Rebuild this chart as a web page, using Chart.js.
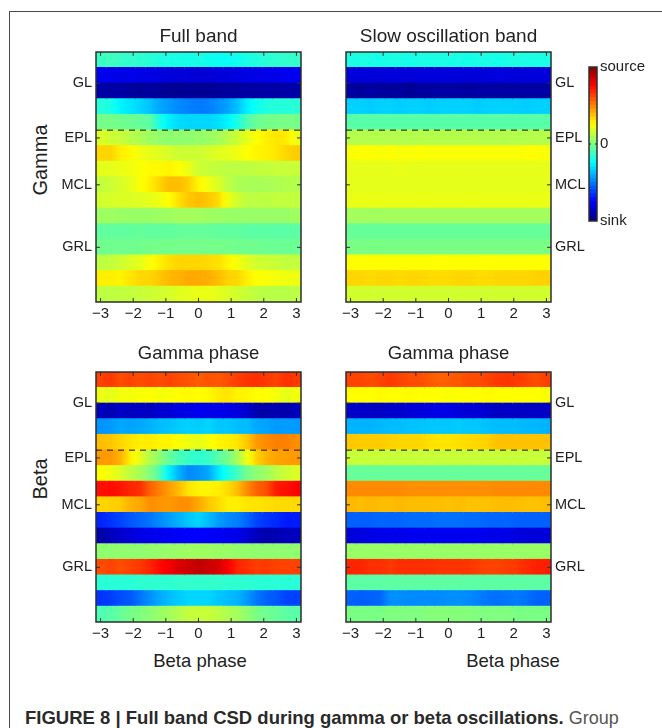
<!DOCTYPE html>
<html><head><meta charset="utf-8">
<script src="https://cdn.jsdelivr.net/npm/chart.js@4"></script>
<style>
html,body{margin:0;padding:0;background:#fff;overflow:hidden}
#page{position:relative;width:662px;height:728px;overflow:hidden;font-family:"Liberation Sans",sans-serif;color:#222}
#frame{position:absolute;left:9px;top:11px;width:660px;height:740px;border:1.5px solid #4a4a4a;box-sizing:border-box}
canvas{position:absolute;filter:blur(0.4px)}
.t{position:absolute;white-space:nowrap;color:#222}
.rot{transform:translate(-50%,-50%) rotate(-90deg);font-size:20px}
.xl{transform:translate(-50%,-50%);font-size:18.5px}
#cap{left:25px;top:708px;font-size:18.5px;line-height:20px;color:#222}
#cap b{color:#2a2a2a}
#cap span{color:#555;font-size:18px}
</style></head><body>
<div id="page">
<div id="frame"></div>
<div class="t rot" style="left:40px;top:160px">Gamma</div>
<div class="t rot" style="left:40px;top:479px">Beta</div>
<div class="t xl" style="left:200px;top:661px">Beta phase</div>
<div class="t xl" style="left:513px;top:661px">Beta phase</div>
<div class="t" id="cap"><b>FIGURE 8 | Full band CSD during gamma or beta oscillations.</b> <span>Group</span></div>
</div>
<script>
const phaseEdges=[-3.14,-2.84,-2.54,-2.24,-1.94,-1.64,-1.34,-1.05,-0.75,-0.45,-0.15,0.15,0.45,0.75,1.05,1.34,1.64,1.94,2.24,2.54,2.84,3.14];
const rowLabels=["r1","r2","r3","r4","r5","r6","r7","r8","r9","r10","r11","r12","r13","r14","r15","r16"];
const layerNames=["GL","EPL","MCL","GRL"];
const layerDepths=[2,5.5,8.5,12.5];
const dashDepth=5;
const phaseTicks=[-3,-2,-1,0,1,2,3];
const panelTitles=["Full band","Slow oscillation band","Gamma phase","Gamma phase"];

const fullBandGamma=[
[-.14,-.12,-.14,-.15,-.16,-.17,-.19,-.2,-.2,-.21,-.2,-.22,-.23,-.23,-.22,-.2,-.19,-.17,-.16,-.15,-.15],
[-.78,-.79,-.8,-.79,-.8,-.8,-.81,-.82,-.82,-.83,-.83,-.83,-.82,-.82,-.81,-.8,-.8,-.79,-.79,-.78,-.78],
[-.92,-.93,-.92,-.94,-.95,-.94,-.95,-.96,-.96,-.95,-.96,-.95,-.95,-.94,-.94,-.93,-.93,-.92,-.93,-.92,-.92],
[-.18,-.2,-.27,-.3,-.33,-.37,-.42,-.45,-.48,-.5,-.51,-.5,-.47,-.43,-.37,-.28,-.22,-.19,-.18,-.18,-.17],
[-.02,-.02,-.03,-.04,-.05,-.07,-.2,-.28,-.32,-.33,-.33,-.33,-.31,-.27,-.2,-.1,-.04,-.02,-.02,-.01,-.02],
[.18,.15,.14,.11,.09,.06,.04,.03,.03,.03,.04,.05,.07,.11,.15,.2,.25,.28,.3,.29,.22],
[.33,.33,.28,.26,.22,.2,.19,.17,.15,.15,.15,.17,.19,.2,.22,.25,.27,.28,.3,.33,.35],
[.2,.2,.21,.22,.24,.26,.26,.27,.25,.21,.15,.14,.13,.12,.12,.12,.13,.13,.14,.14,.14],
[.13,.15,.17,.2,.24,.28,.33,.38,.38,.34,.27,.22,.18,.12,.09,.08,.08,.08,.09,.1,.1],
[.16,.17,.18,.18,.19,.2,.22,.25,.31,.36,.38,.36,.32,.22,.16,.12,.12,.12,.13,.13,.13],
[.06,.06,.05,.05,.05,.05,.06,.06,.07,.07,.07,.06,.06,.05,.05,.05,.05,.05,.05,.05,.06],
[-.06,-.06,-.06,-.06,-.05,-.06,-.06,-.06,-.05,-.05,-.05,-.05,-.06,-.06,-.06,-.07,-.07,-.07,-.07,-.07,-.07],
[-.03,-.03,-.03,-.03,-.03,-.02,-.02,-.02,-.02,-.02,-.02,-.02,-.02,-.02,-.03,-.03,-.03,-.04,-.04,-.04,-.04],
[.12,.13,.15,.18,.2,.24,.28,.31,.33,.33,.33,.32,.31,.27,.23,.19,.16,.15,.14,.13,.13],
[.28,.28,.27,.3,.33,.33,.36,.39,.4,.42,.42,.41,.38,.34,.33,.28,.25,.24,.23,.22,.22],
[.12,.12,.13,.13,.14,.15,.16,.17,.19,.2,.21,.21,.2,.18,.16,.14,.12,.11,.11,.11,.12]];

const slowBandGamma=[
[-.2,-.19,-.2,-.21,-.2,-.2,-.21,-.2,-.2,-.2,-.2,-.2,-.21,-.2,-.2,-.21,-.2,-.19,-.2,-.2,-.2],
[-.82,-.82,-.82,-.83,-.82,-.82,-.83,-.82,-.82,-.82,-.82,-.82,-.82,-.82,-.82,-.81,-.82,-.82,-.82,-.82,-.82],
[-.93,-.95,-.93,-.94,-.95,-.94,-.96,-.94,-.94,-.93,-.93,-.93,-.94,-.93,-.93,-.93,-.93,-.93,-.93,-.93,-.93],
[-.34,-.34,-.35,-.34,-.34,-.35,-.34,-.34,-.35,-.34,-.34,-.34,-.34,-.35,-.34,-.34,-.34,-.34,-.35,-.34,-.34],
[-.08,-.08,-.08,-.08,-.08,-.08,-.08,-.08,-.08,-.08,-.08,-.08,-.08,-.08,-.08,-.08,-.08,-.08,-.08,-.08,-.08],
[.1,.1,.1,.1,.1,.1,.1,.1,.1,.1,.1,.1,.1,.1,.1,.1,.1,.1,.1,.1,.1],
[.24,.25,.25,.24,.25,.24,.24,.25,.24,.24,.24,.24,.24,.24,.24,.24,.24,.24,.25,.25,.24],
[.2,.2,.2,.2,.2,.21,.2,.2,.2,.2,.2,.2,.2,.2,.2,.2,.2,.2,.2,.2,.2],
[.2,.2,.2,.2,.2,.2,.2,.2,.2,.2,.2,.2,.2,.2,.2,.2,.2,.2,.2,.2,.2],
[.21,.21,.21,.21,.21,.21,.21,.21,.21,.21,.21,.21,.21,.21,.21,.21,.21,.21,.21,.21,.21],
[.07,.07,.07,.07,.07,.07,.07,.07,.07,.07,.07,.07,.07,.07,.07,.07,.07,.07,.07,.07,.07],
[-.05,-.05,-.05,-.05,-.05,-.05,-.05,-.05,-.05,-.05,-.05,-.05,-.05,-.05,-.05,-.05,-.05,-.05,-.05,-.05,-.05],
[-.01,-.01,-.01,-.01,-.01,-.01,-.01,-.01,-.01,-.01,-.01,-.01,-.01,-.01,-.01,-.01,-.01,-.01,-.01,-.01,-.01],
[.25,.25,.25,.25,.25,.25,.25,.25,.25,.25,.25,.25,.25,.25,.25,.25,.25,.25,.25,.25,.25],
[.33,.33,.32,.33,.33,.32,.33,.33,.32,.32,.32,.33,.33,.32,.32,.33,.33,.33,.33,.34,.34],
[.16,.16,.16,.16,.16,.16,.16,.16,.16,.16,.16,.16,.16,.16,.16,.16,.16,.16,.16,.16,.16]];

const fullBandBeta=[
[.62,.64,.6,.62,.6,.62,.6,.62,.6,.59,.57,.59,.58,.6,.63,.65,.66,.64,.62,.66,.64],
[.21,.2,.23,.23,.24,.25,.23,.24,.25,.26,.25,.26,.29,.3,.27,.27,.25,.25,.23,.2,.23],
[-.88,-.9,-.86,-.88,-.86,-.88,-.84,-.84,-.8,-.8,-.78,-.79,-.79,-.8,-.82,-.85,-.91,-.92,-.9,-.91,-.88],
[-.46,-.45,-.42,-.43,-.42,-.4,-.38,-.37,-.35,-.34,-.35,-.33,-.36,-.36,-.38,-.38,-.42,-.43,-.45,-.44,-.45],
[.38,.36,.33,.3,.28,.29,.27,.27,.24,.22,.2,.23,.27,.28,.3,.36,.45,.48,.5,.5,.47],
[.45,.45,.4,.28,.2,.1,.03,-.05,-.11,-.14,-.16,-.14,-.08,-.02,.08,.22,.34,.4,.43,.44,.45],
[.25,.22,.18,.12,.08,.01,-.1,-.28,-.4,-.48,-.46,-.42,-.3,-.2,-.12,-.02,.03,.06,.12,.15,.18],
[.72,.73,.71,.68,.66,.56,.5,.44,.38,.3,.27,.27,.28,.32,.38,.48,.56,.6,.7,.72,.75],
[.33,.34,.35,.4,.42,.47,.46,.45,.47,.47,.42,.36,.32,.28,.28,.3,.3,.31,.32,.32,.32],
[-.68,-.65,-.62,-.58,-.55,-.52,-.48,-.44,-.4,-.36,-.33,-.38,-.44,-.48,-.5,-.55,-.62,-.65,-.67,-.7,-.7],
[-.92,-.88,-.85,-.83,-.8,-.79,-.78,-.77,-.76,-.75,-.75,-.76,-.77,-.78,-.79,-.83,-.88,-.91,-.9,-.88,-.88],
[.03,.03,.03,.03,.03,.04,.04,.05,.05,.06,.06,.06,.05,.05,.04,.04,.03,.03,.03,.03,.03],
[.6,.62,.6,.62,.64,.68,.73,.77,.82,.85,.87,.85,.83,.76,.68,.66,.63,.64,.62,.62,.62],
[-.17,-.17,-.17,-.17,-.16,-.16,-.16,-.16,-.15,-.15,-.15,-.15,-.15,-.16,-.16,-.16,-.17,-.17,-.17,-.17,-.17],
[-.65,-.63,-.6,-.58,-.52,-.47,-.42,-.38,-.35,-.33,-.33,-.33,-.36,-.38,-.4,-.45,-.52,-.56,-.58,-.62,-.62],
[-.1,-.08,-.05,-.02,0,.02,.05,.07,.1,.13,.14,.14,.12,.09,.07,.03,-.01,-.03,-.05,-.07,-.08]];

const slowBandBeta=[
[.62,.62,.6,.62,.64,.62,.6,.6,.58,.56,.57,.58,.6,.6,.62,.64,.65,.64,.62,.6,.63],
[.25,.25,.25,.26,.25,.25,.26,.25,.25,.25,.24,.25,.25,.25,.26,.25,.25,.25,.25,.25,.24],
[-.86,-.86,-.86,-.87,-.85,-.85,-.83,-.82,-.81,-.8,-.8,-.82,-.83,-.83,-.85,-.87,-.86,-.86,-.87,-.87,-.86],
[-.4,-.4,-.4,-.39,-.38,-.38,-.37,-.37,-.36,-.36,-.36,-.35,-.36,-.36,-.37,-.38,-.38,-.38,-.39,-.39,-.4],
[.36,.35,.35,.35,.34,.33,.33,.33,.31,.3,.3,.31,.32,.33,.34,.37,.37,.37,.37,.37,.37],
[.14,.14,.14,.14,.14,.14,.14,.14,.14,.14,.14,.14,.14,.14,.14,.14,.14,.14,.14,.14,.14],
[-.05,-.05,-.05,-.05,-.05,-.05,-.05,-.05,-.05,-.05,-.05,-.05,-.05,-.05,-.05,-.05,-.05,-.05,-.05,-.05,-.05],
[.48,.48,.48,.48,.48,.48,.47,.47,.47,.47,.47,.47,.47,.47,.47,.48,.48,.48,.48,.48,.48],
[.39,.38,.39,.38,.38,.39,.38,.38,.38,.38,.37,.38,.37,.37,.37,.38,.38,.38,.37,.37,.38],
[-.56,-.56,-.56,-.55,-.55,-.55,-.54,-.54,-.54,-.53,-.53,-.53,-.54,-.54,-.55,-.55,-.55,-.56,-.56,-.56,-.56],
[-.82,-.81,-.8,-.79,-.79,-.79,-.78,-.78,-.78,-.78,-.78,-.78,-.78,-.78,-.79,-.79,-.8,-.81,-.82,-.82,-.82],
[.05,.05,.05,.05,.05,.05,.05,.05,.05,.05,.05,.05,.05,.05,.05,.05,.05,.05,.05,.05,.05],
[.68,.68,.66,.66,.64,.66,.66,.66,.66,.65,.65,.65,.65,.63,.62,.62,.63,.64,.67,.69,.69],
[-.07,-.07,-.07,-.07,-.07,-.07,-.07,-.07,-.07,-.07,-.07,-.07,-.07,-.07,-.07,-.07,-.07,-.07,-.07,-.07,-.07],
[-.56,-.57,-.56,-.55,-.47,-.47,-.48,-.48,-.48,-.48,-.47,-.47,-.48,-.5,-.52,-.53,-.52,-.51,-.53,-.56,-.56],
[-.01,-.01,-.01,-.01,0,0,0,0,.01,.01,.01,.01,.01,0,0,0,0,-.01,-.01,-.01,-.01]];

const colorbarLevels=[-1,-.95,-.9,-.85,-.8,-.75,-.7,-.65,-.6,-.55,-.5,-.45,-.4,-.35,-.3,-.25,-.2,-.15,-.1,-.05,0,.05,.1,.15,.2,.25,.3,.35,.4,.45,.5,.55,.6,.65,.7,.75,.8,.85,.9,.95,1];
const colorbarTicks=[-1,0,1];
const colorbarNames=["sink","0","source"];

function jet(v){
  const t=(v+1)/2;
  const c=x=>Math.round(255*Math.max(0,Math.min(1,x)));
  return `rgb(${c(1.5-Math.abs(4*t-3))},${c(1.5-Math.abs(4*t-2))},${c(1.5-Math.abs(4*t-1))})`;
}
const INK="#2e2e2e", TICKFONT={family:"Liberation Sans",size:14.5}, TICKLEN=4;

const framePlugin={id:"frameTicks",afterDraw(chart){
  const a=chart.chartArea,ctx=chart.ctx,s=chart.scales,o=chart.options.plugins.frameTicks;
  ctx.save();ctx.strokeStyle=INK;ctx.lineWidth=1;
  ctx.beginPath();
  if(o.heat){
    phaseTicks.forEach(t=>{const p=s.x.getPixelForValue(t);
      ctx.moveTo(p,a.top);ctx.lineTo(p,a.top+TICKLEN);ctx.moveTo(p,a.bottom);ctx.lineTo(p,a.bottom-TICKLEN);});
    layerDepths.forEach(d=>{const p=s.y2.getPixelForValue(d);
      ctx.moveTo(a.left,p);ctx.lineTo(a.left+TICKLEN,p);ctx.moveTo(a.right,p);ctx.lineTo(a.right-TICKLEN,p);});
  } else {
    const p=s.y.getPixelForValue(0);
    ctx.moveTo(a.left,p);ctx.lineTo(a.left+2,p);ctx.moveTo(a.right,p);ctx.lineTo(a.right-2,p);
  }
  ctx.stroke();
  ctx.lineWidth=1.5;ctx.strokeRect(a.left,a.top,a.right-a.left,a.bottom-a.top);
  if(o.heat){
    const p=s.y2.getPixelForValue(dashDepth);
    ctx.lineWidth=1;ctx.strokeStyle="#111";ctx.setLineDash([6,5]);
    ctx.beginPath();ctx.moveTo(a.left,p);ctx.lineTo(a.right,p);ctx.stroke();
  }
  ctx.restore();
}};

function cellFill(rows,j){
  return function(c){
    const r=rows[c.dataIndex];
    if(!r) return "#fff";
    const v=r[j];
    const sc=c.chart.scales.x;
    const x0=sc?sc.getPixelForValue(phaseEdges[j]):NaN, x1=sc?sc.getPixelForValue(phaseEdges[j+1]):NaN;
    if(!isFinite(x0)||!isFinite(x1)) return jet(v);
    const lo=j>0?(r[j-1]+v)/2:v, hi=j<r.length-1?(r[j+1]+v)/2:v;
    const g=c.chart.ctx.createLinearGradient(x0,0,x1,0);
    g.addColorStop(0,jet(lo));g.addColorStop(.5,jet(v));g.addColorStop(1,jet(hi));
    return g;
  };
}

function heat(rows,title,left,top,labelSide,titleTop,titleSize){
  const cv=document.createElement("canvas");
  cv.width=345;cv.height=350;cv.style.left=left+"px";cv.style.top=top+"px";
  document.getElementById("page").appendChild(cv);
  const datasets=phaseEdges.slice(0,-1).map((e,j)=>({
    data:rows.map(()=>[e,phaseEdges[j+1]]),
    backgroundColor:cellFill(rows,j),
    borderWidth:0,barPercentage:1,categoryPercentage:1,inflateAmount:0.6,yAxisID:"y",xAxisID:"x"}));
  new Chart(cv,{type:"bar",data:{labels:rowLabels,datasets},plugins:[framePlugin],options:{
    responsive:false,animation:false,indexAxis:"y",
    datasets:{bar:{grouped:false}},
    plugins:{legend:{display:false},tooltip:{enabled:false},frameTicks:{heat:true},
      title:{display:true,text:title,color:"#222",font:{family:"Liberation Sans",size:titleSize,weight:"normal",lineHeight:22/titleSize},padding:{top:titleTop,bottom:8-titleTop}}},
    scales:{
      x:{type:"linear",min:phaseEdges[0],max:phaseEdges[phaseEdges.length-1],position:"bottom",
        afterBuildTicks(sc){sc.ticks=phaseTicks.map(v=>({value:v}));},
        afterFit(sc){sc.height=70;},
        grid:{display:false,drawTicks:false},border:{display:false},
        ticks:{color:"#222",font:{family:"Liberation Sans",size:15},padding:3,maxRotation:0,autoSkip:false,callback:v=>String(v).replace("-","\u2212")}},
      y:{type:"category",labels:rowLabels,offset:true,display:false},
      y2:{type:"linear",min:0,max:16,reverse:true,offset:false,position:labelSide,
        afterBuildTicks(sc){sc.ticks=layerDepths.map(v=>({value:v}));},
        afterFit(sc){sc.width=70;},
        grid:{display:false,drawTicks:false},border:{display:false},
        ticks:{color:"#222",font:TICKFONT,padding:4,autoSkip:false,callback:v=>layerNames[layerDepths.indexOf(v)]}},
      y3:{type:"linear",min:0,max:16,offset:false,position:labelSide==="left"?"right":"left",
        afterFit(sc){sc.width=70;},
        grid:{display:false,drawTicks:false},border:{display:false},ticks:{display:false}}
    }}});
}
heat(fullBandGamma,panelTitles[0],26,22,"left",4,19);
heat(slowBandGamma,panelTitles[1],276,22,"right",4,19);
heat(fullBandBeta,panelTitles[2],26,342,"left",1,18.5);
heat(slowBandBeta,panelTitles[3],276,342,"right",1,18.5);

(function(){
  const cv=document.createElement("canvas");
  cv.width=77;cv.height=178;cv.style.left="585px";cv.style.top="55px";
  document.getElementById("page").appendChild(cv);
  const datasets=colorbarLevels.slice(0,-1).map((l,i)=>({
    data:[[l,colorbarLevels[i+1]]],backgroundColor:jet((l+colorbarLevels[i+1])/2),
    borderWidth:0,barPercentage:1,categoryPercentage:1,inflateAmount:0.6}));
  new Chart(cv,{type:"bar",data:{labels:["level"],datasets},plugins:[framePlugin],options:{
    responsive:false,animation:false,
    layout:{padding:{left:4,right:0,top:10,bottom:10}},
    datasets:{bar:{grouped:false}},
    plugins:{legend:{display:false},tooltip:{enabled:false},frameTicks:{heat:false}},
    scales:{
      x:{type:"category",display:false},
      y:{type:"linear",min:-1,max:1,position:"right",
        afterBuildTicks(sc){sc.ticks=colorbarTicks.map(v=>({value:v}));},
        afterFit(sc){sc.width=65;},
        grid:{display:false,drawTicks:false},border:{display:false},
        ticks:{color:"#222",font:{family:"Liberation Sans",size:15},padding:3,autoSkip:false,
          callback:v=>colorbarNames[colorbarTicks.indexOf(v)]}}
    }}});
})();
</script>
</body></html>
